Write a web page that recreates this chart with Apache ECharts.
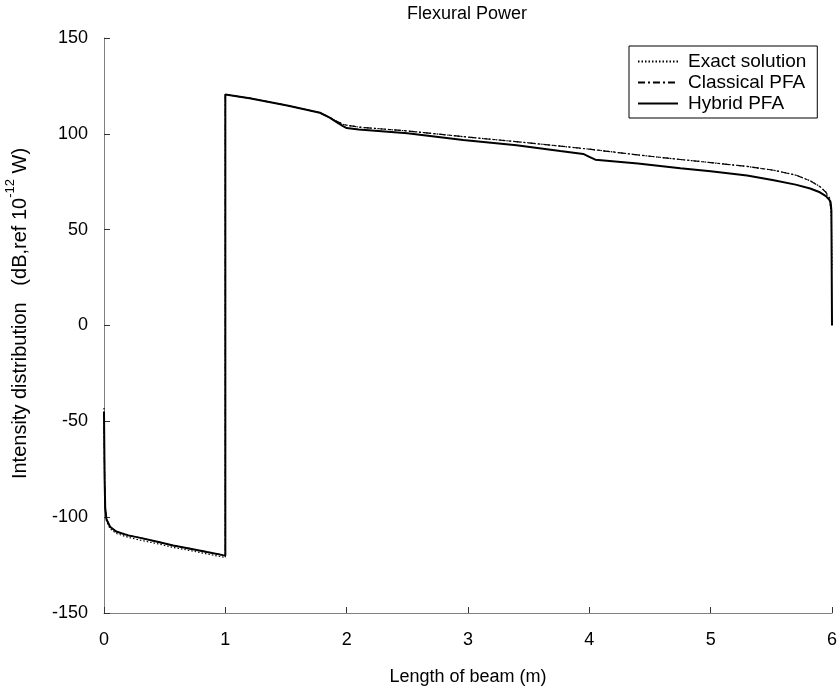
<!DOCTYPE html>
<html>
<head>
<meta charset="utf-8">
<script src="https://cdn.jsdelivr.net/npm/echarts@6/dist/echarts.min.js"></script>
<style>html,body{margin:0;padding:0;background:#fff}#c{width:840px;height:686px}</style>
</head>
<body>
<div id="c"></div>
<script>
const xTicks = [0, 1, 2, 3, 4, 5, 6];
const yTicks = [-150, -100, -50, 0, 50, 100, 150];

const hybridX = [0, 0.005, 0.01, 0.02, 0.05, 0.1, 0.2, 0.3, 0.45, 0.57, 0.7, 0.85, 0.98, 1.0, 1.0, 1.2, 1.51, 1.78, 1.86, 1.92, 1.97, 2.0, 2.1, 2.5, 2.96, 3.4, 3.76, 3.95, 4.0, 4.05, 4.4, 4.75, 5.0, 5.3, 5.52, 5.7, 5.82, 5.9, 5.95, 5.985, 5.995, 6.0];
const hybridY = [-45, -80, -95, -101, -105, -107.5, -109.5, -110.8, -113, -114.8, -116.3, -118.2, -119.8, -120, 120.5, 118.6, 114.8, 111, 108.5, 106, 104, 103, 102.3, 100.3, 96.8, 94, 91, 89.5, 88, 86.5, 84.5, 82, 80.5, 78.3, 75.8, 73.5, 71.5, 69.5, 67.5, 65, 60, 0];

const classicalX = [0, 0.005, 0.01, 0.02, 0.05, 0.1, 0.2, 0.3, 0.45, 0.57, 0.7, 0.85, 0.98, 1.0, 1.0, 1.2, 1.51, 1.78, 1.86, 1.92, 1.97, 2.0, 2.1, 2.5, 3.0, 3.5, 4.0, 4.4, 4.75, 5.0, 5.3, 5.52, 5.7, 5.82, 5.9, 5.95, 5.985, 6.0];
const classicalY = [-45, -80, -95, -101, -105, -107.5, -109.5, -110.8, -113, -114.8, -116.3, -118.2, -119.8, -120, 120.5, 118.6, 114.8, 111, 108.5, 106.5, 105, 104.5, 103.5, 101.5, 98.3, 95.3, 92, 89, 86.6, 85, 83, 81, 78.5, 75.5, 72.5, 69.5, 66, 60];

const exactX = [0, 0.005, 0.01, 0.02, 0.05, 0.1, 0.2, 0.3, 0.45, 0.57, 0.7, 0.85, 0.98, 1.0, 1.0, 1.2, 1.51, 1.78, 1.86, 1.92, 1.97, 2.0, 2.1, 2.5, 3.0, 3.5, 4.0, 4.4, 4.75, 5.0, 5.3, 5.52, 5.7, 5.82, 5.9, 5.95, 5.985, 5.995, 6.0];
const exactY = [-43, -80, -96, -102, -106, -108.5, -110.5, -112, -114, -115.8, -117.3, -119.2, -120.8, -121, 120.5, 118.6, 114.8, 111, 108.5, 106.5, 105, 104.5, 103.5, 101.5, 98.3, 95.3, 92, 89, 86.6, 85, 83, 81, 78.5, 75.5, 72.5, 69.5, 64, 55, 30];

const seriesNames = ['Exact solution', 'Classical PFA', 'Hybrid PFA'];

function pairs(xs, ys) { return xs.map((x, i) => [x, ys[i]]); }

const FONT = 'Liberation Sans';
const chart = echarts.init(document.getElementById('c'), null, {renderer: 'canvas'});
chart.setOption({
  backgroundColor: '#ffffff',
  animation: false,
  textStyle: {fontFamily: FONT, color: '#000'},
  title: {
    text: 'Flexural Power',
    left: 462, top: 0, textAlign: 'center',
    textStyle: {fontFamily: FONT, fontSize: 18, fontWeight: 'normal', color: '#000'}
  },
  legend: {
    orient: 'vertical',
    left: 629, top: 46,
    padding: [6, 11, 5, 8],
    itemWidth: 40, itemHeight: 10, itemGap: 2,
    borderColor: '#000', borderWidth: 1,
    itemStyle: {opacity: 0},
    textStyle: {fontFamily: FONT, fontSize: 19, color: '#000', padding: [0, 0, 0, 5]},
    data: seriesNames
  },
  grid: {left: 104, right: 8, top: 38, bottom: 73, outerBoundsMode: 'none', containLabel: false},
  xAxis: {
    type: 'value', min: 0, max: 6, interval: 1,
    name: 'Length of beam (m)', nameLocation: 'middle', nameGap: 55,
    nameTextStyle: {fontFamily: FONT, fontSize: 18, color: '#000'},
    axisLine: {onZero: false, lineStyle: {color: '#808080', width: 1}},
    axisTick: {inside: true, length: 6, lineStyle: {color: '#333'}},
    axisLabel: {fontFamily: FONT, fontSize: 18, color: '#000', margin: 18,
      formatter: v => xTicks.includes(v) ? String(v) : ''},
    splitLine: {show: false}
  },
  yAxis: {
    type: 'value', min: -150, max: 150, interval: 50,
    name: '{a|Intensity distribution   (dB,ref 10}{s|-12}{a| W)}',
    nameLocation: 'middle', nameGap: 74, nameRotate: 90,
    nameTextStyle: {fontFamily: FONT, fontSize: 20, color: '#000', padding: [0, 0, 0, 24],
      rich: {
        a: {fontFamily: FONT, fontSize: 20, color: '#000', lineHeight: 26, verticalAlign: 'bottom'},
        s: {fontFamily: FONT, fontSize: 13, color: '#000', lineHeight: 26, verticalAlign: 'top'}
      }},
    axisLine: {show: true, onZero: false, lineStyle: {color: '#808080', width: 1}},
    axisTick: {show: true, inside: true, length: 6, lineStyle: {color: '#333'}},
    axisLabel: {fontFamily: FONT, fontSize: 18, color: '#000', margin: 16,
      formatter: v => yTicks.includes(v) ? String(v) : ''},
    splitLine: {show: false}
  },
  series: [
    {
      name: seriesNames[0], type: 'line', symbol: 'none', smooth: false,
      data: pairs(exactX, exactY),
      lineStyle: {color: '#000', width: 1.2, type: [1.5, 2]},
      itemStyle: {color: '#000', opacity: 0}, z: 3
    },
    {
      name: seriesNames[1], type: 'line', symbol: 'none', smooth: false,
      data: pairs(classicalX, classicalY),
      lineStyle: {color: '#000', width: 1.2, type: [7, 3, 2, 3]},
      itemStyle: {color: '#000', opacity: 0}, z: 4
    },
    {
      name: seriesNames[2], type: 'line', symbol: 'none', smooth: false,
      data: pairs(hybridX, hybridY),
      lineStyle: {color: '#000', width: 2, type: 'solid'},
      itemStyle: {color: '#000', opacity: 0}, z: 5
    }
  ]
});
</script>
</body>
</html>
